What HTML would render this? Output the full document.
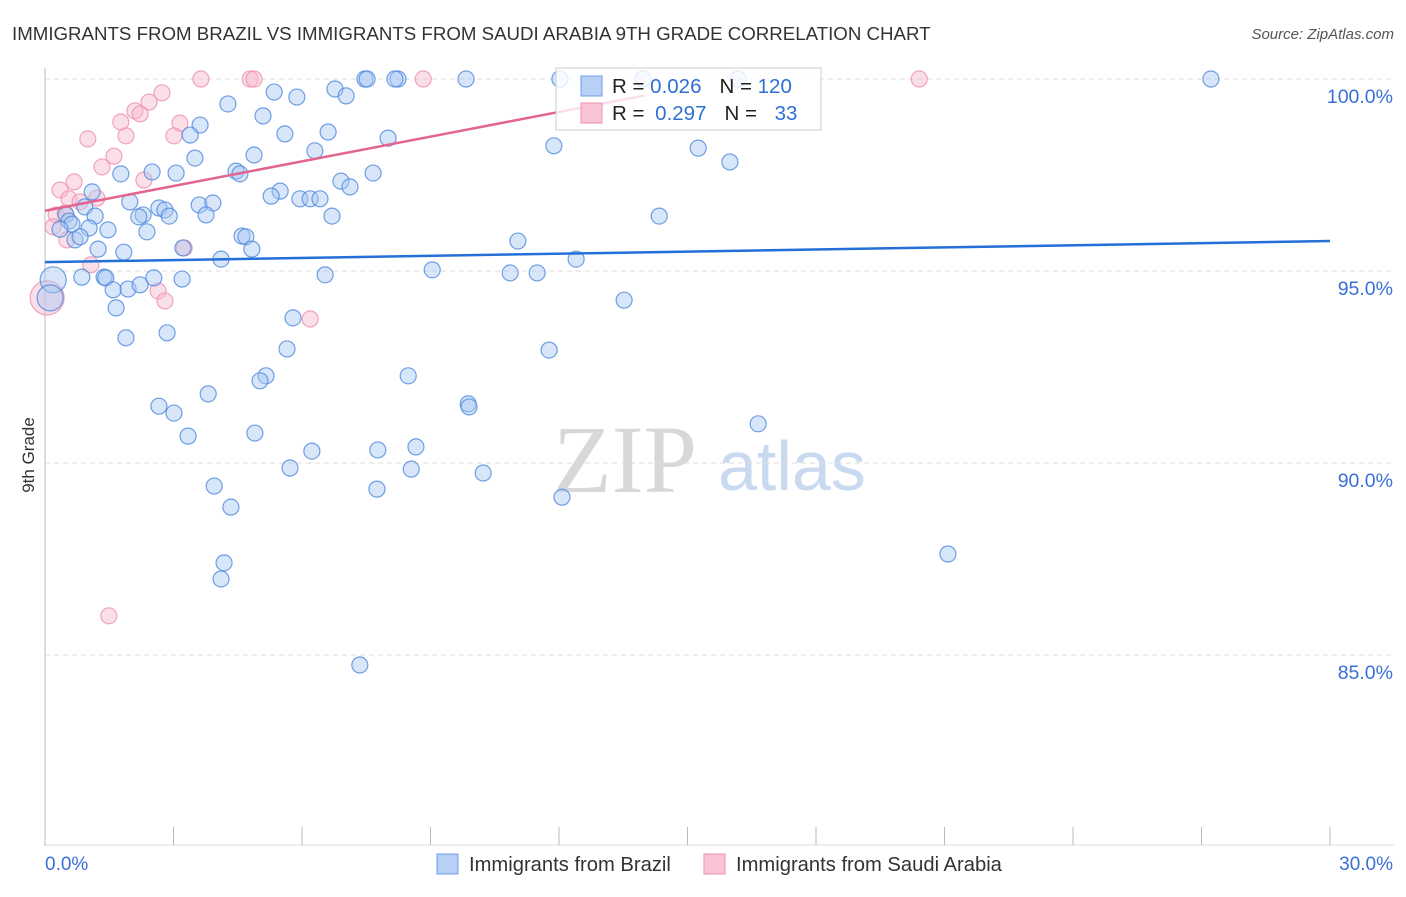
<!DOCTYPE html>
<html><head><meta charset="utf-8"><style>
body{margin:0;background:#fff;font-family:"Liberation Sans",sans-serif}
</style></head><body>
<svg id="chart" width="1406" height="892" xmlns="http://www.w3.org/2000/svg" font-family="Liberation Sans, sans-serif">
<text x="12" y="40" font-size="18.7" fill="#333">IMMIGRANTS FROM BRAZIL VS IMMIGRANTS FROM SAUDI ARABIA 9TH GRADE CORRELATION CHART</text>
<text x="1394" y="39" font-size="15" fill="#555" font-style="italic" text-anchor="end">Source: ZipAtlas.com</text>
<text x="553" y="492" font-size="96" fill="#d8d8d8" font-family="Liberation Serif, serif">ZIP</text>
<text x="718" y="490" font-size="70" fill="#c9d9f0">atlas</text>
<g id="grid"></g><g id="axes"></g><g id="marks"></g><g id="lines"></g>
<g>
<rect x="556" y="68" width="265" height="62" fill="#fff" fill-opacity="0.8" stroke="#ccc"/>
<rect x="581" y="76" width="21" height="20" fill="#b8d0f5" stroke="#6a9de8"/>
<rect x="581" y="103" width="21" height="20" fill="#f9c4d4" stroke="#ee90ae"/>
<text x="612" y="93" font-size="20.5" fill="#222">R = <tspan fill="#2f6fd6">0.026</tspan><tspan dx="18">N = </tspan><tspan fill="#2f6fd6">120</tspan></text>
<text x="612" y="120" font-size="20.5" fill="#222">R = <tspan fill="#2f6fd6" dx="5">0.297</tspan><tspan dx="18">N = </tspan><tspan fill="#2f6fd6" dx="12">33</tspan></text>
</g>
<text transform="translate(34,455) rotate(-90)" font-size="17" fill="#333" text-anchor="middle">9th Grade</text>
<g><rect x="437" y="854" width="21" height="20" fill="#b8d0f5" stroke="#6a9de8"/><text x="469" y="871" font-size="20.2" fill="#333">Immigrants from Brazil</text></g>
<g><rect x="704" y="854" width="21" height="20" fill="#f9c4d4" stroke="#ee90ae"/><text x="736" y="871" font-size="20.2" fill="#333">Immigrants from Saudi Arabia</text></g>
</svg>
<script>
const yTicks=[100,95,90,85];
const xTickLabels=["0.0%","30.0%"];
const brazilX=[9.83,7.47,8.24,7.52,8.17,13.96,16.18,27.22,12.02,6.77,5.35,5.88,7.03,4.27,5.09,3.62,3.39,5.60,6.61,8.01,11.88,15.25,15.99,6.30,4.88,3.50,1.77,2.50,3.06,4.46,4.55,7.66,6.91,7.12,1.10,5.49,5.28,1.98,5.95,6.19,6.42,3.60,3.92,2.66,2.80,0.93,2.29,2.90,2.19,1.17,3.76,6.70,14.34,0.49,0.56,0.63,0.35,1.03,1.47,2.38,0.70,0.82,4.60,4.69,3.22,1.24,1.84,4.83,11.04,4.11,12.40,9.04,10.86,11.49,0.86,1.38,1.42,2.54,3.20,6.54,1.94,2.22,1.59,13.52,0.19,0.12,1.66,5.79,2.85,1.89,5.65,11.77,8.48,5.16,5.02,3.81,2.66,3.01,9.88,9.90,3.34,4.90,16.65,6.23,7.77,8.66,5.72,8.55,10.23,3.95,7.75,12.07,4.34,21.08,4.18,4.11,7.35];
const brazilY=[100,100,100,100,100,100,100,100,100,99.74,99.66,99.53,99.56,99.35,99.04,98.80,98.54,98.57,98.62,98.46,98.26,98.20,97.84,98.13,98.02,97.94,97.53,97.58,97.55,97.60,97.53,97.55,97.34,97.19,97.06,97.08,96.95,96.80,96.88,96.88,96.88,96.72,96.77,96.64,96.59,96.67,96.46,96.43,96.41,96.43,96.46,96.43,96.43,96.46,96.30,96.22,96.09,96.12,96.07,96.02,95.81,95.89,95.91,95.89,95.60,95.57,95.49,95.57,95.78,95.31,95.31,95.03,94.95,94.95,94.84,94.84,94.82,94.82,94.79,94.90,94.53,94.64,94.51,94.24,94.77,94.30,94.04,93.78,93.39,93.26,92.97,92.94,92.27,92.27,92.14,91.80,91.48,91.30,91.54,91.46,90.70,90.78,91.02,90.31,90.34,90.42,89.87,89.84,89.74,89.40,89.32,89.11,88.85,87.63,87.40,86.98,84.74];
const brazilBig=[84,85];
const saudiX=[3.64,4.79,4.88,8.83,20.41,2.73,2.43,2.10,2.22,1.77,3.15,1.89,1.00,3.01,1.61,1.33,2.31,0.35,0.68,1.21,0.56,0.82,0.26,0.47,0.19,0.51,3.25,1.07,2.64,2.80,6.19,1.49,0.05];
const saudiY=[100,100,100,100,100,99.64,99.40,99.17,99.09,98.88,98.85,98.52,98.44,98.52,97.99,97.71,97.37,97.11,97.32,96.90,96.88,96.80,96.46,96.51,96.15,95.81,95.60,95.16,94.48,94.22,93.75,86.02,94.30];
const saudiBig=[32];
const brazilTrend=[[0,95.23],[30,95.78]];
const saudiTrend=[[0,96.57],[14,99.57]];
const NS="http://www.w3.org/2000/svg";
const sx=v=>45+v/30*1285, sy=v=>79+(100-v)*38.4;
function mk(t,a,p){const e=document.createElementNS(NS,t);for(const k in a)e.setAttribute(k,a[k]);p.appendChild(e);return e;}
const grid=document.getElementById('grid'),axes=document.getElementById('axes'),marks=document.getElementById('marks'),lines=document.getElementById('lines');
yTicks.forEach(t=>{
 const l=mk('line',{x1:45,x2:1394,y1:sy(t),y2:sy(t),stroke:'#ddd','stroke-dasharray':'5,4'},grid);
 
 
 const tx=mk('text',{x:1393,y:sy(t)+24,'font-size':19.5,fill:'#3a6fd8','text-anchor':'end'},axes);
 tx.textContent=t.toFixed(1)+'%';
 
 
});
const ax=mk('line',{x1:45,x2:45,y1:68,y2:846,stroke:'#bbb'},axes);


const bx=mk('line',{x1:45,x2:1394,y1:845,y2:845,stroke:'#ddd'},axes);


for(let i=0;i<=10;i++){
 const t=mk('line',{x1:sx(i*3),x2:sx(i*3),y1:827,y2:845,stroke:'#bbb'},axes);
 
 
}
xTickLabels.forEach((s,i)=>{
 const t=mk('text',{x:i?1393:45,y:870,'font-size':19,fill:'#3a6fd8','text-anchor':i?'end':'start'},axes);
 t.textContent=s;
 
 
});
function pts(X,Y,big,fill,stroke,name){
 X.forEach((x,i)=>{
  const c=mk('circle',{cx:sx(x),cy:sy(Y[i]),r:big.includes(i)?(name==='saudi-point'?17:13):8,fill:fill,'fill-opacity':0.45,stroke:stroke,'stroke-opacity':0.8,'stroke-width':1.2},marks);
  
  
 });
}
pts(saudiX,saudiY,saudiBig,'#f7b8cb','#ee8fae','saudi-point');
pts(brazilX,brazilY,brazilBig,'#a9c8f2','#4d88df','brazil-point');
const l1=mk('line',{x1:sx(brazilTrend[0][0]),y1:sy(brazilTrend[0][1]),x2:sx(brazilTrend[1][0]),y2:sy(brazilTrend[1][1]),stroke:'#2470d8','stroke-width':2.5},lines);


const l2=mk('line',{x1:sx(saudiTrend[0][0]),y1:sy(saudiTrend[0][1]),x2:sx(saudiTrend[1][0]),y2:sy(saudiTrend[1][1]),stroke:'#e46490','stroke-width':2.5},lines);


</script>
</body></html>
